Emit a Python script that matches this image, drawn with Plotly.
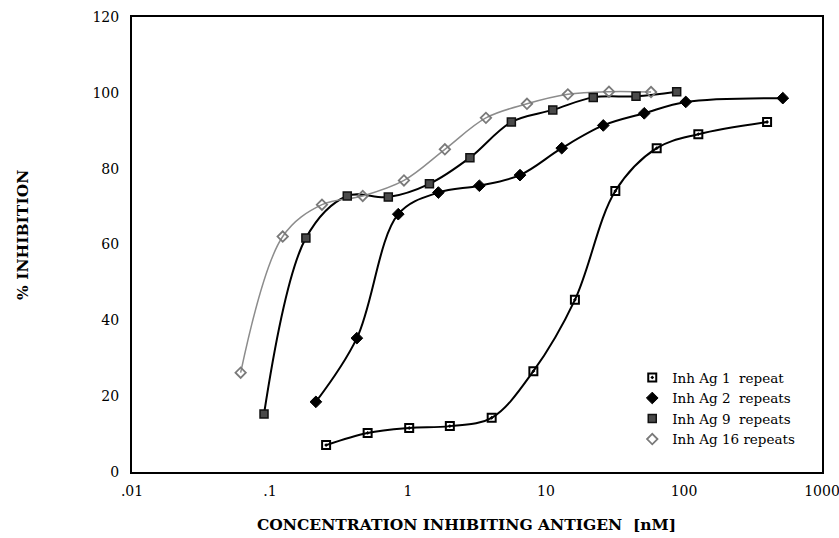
import plotly.graph_objects as go

# ---- data ----
ag1_x = [0.255, 0.51, 1.02, 2.01, 4.04, 8.1, 16.2, 31.8, 63.4, 127, 400]
ag1_y = [7.1, 10.3, 11.6, 12.1, 14.3, 26.6, 45.4, 74.1, 85.4, 89.1, 92.3]

ag2_x = [0.215, 0.426, 0.85, 1.66, 3.29, 6.48, 13.0, 26.0, 51.5, 103, 520]
ag2_y = [18.5, 35.3, 68.0, 73.7, 75.5, 78.3, 85.4, 91.4, 94.6, 97.6, 98.6]

ag9_x = [0.0905, 0.182, 0.363, 0.72, 1.43, 2.81, 5.61, 11.2, 22.0, 44.9, 88.5]
ag9_y = [15.3, 61.7, 72.8, 72.5, 76.0, 82.9, 92.3, 95.5, 98.8, 99.1, 100.3]

ag16_x = [0.0613, 0.1236, 0.238, 0.47, 0.935, 1.85, 3.67, 7.28, 14.4, 28.6, 57.7]
ag16_y = [26.2, 62.1, 70.5, 72.8, 76.9, 85.1, 93.4, 97.1, 99.6, 100.3, 100.2]

names = ["Inh Ag 1\u00a0 repeat", "Inh Ag 2\u00a0 repeats", "Inh Ag 9\u00a0 repeats", "Inh Ag 16 repeats"]

x_tickvals = [0.01, 0.1, 1, 10, 100, 1000]
x_ticktext = [".01", ".1", "1", "10", "100", "1000"]
y_tickvals = [0, 20, 40, 60, 80, 100, 120]

FONT = "DejaVu Serif"

series = [
    (ag1_x, ag1_y, names[0], dict(symbol="square-open-dot", size=8, color="black", line=dict(width=2, color="black")), dict(color="black", width=2)),
    (ag2_x, ag2_y, names[1], dict(symbol="diamond", size=9, color="black", line=dict(width=1, color="black")), dict(color="black", width=2)),
    (ag9_x, ag9_y, names[2], dict(symbol="square", size=8, color="#4a4a4a", line=dict(width=1.5, color="#111111")), dict(color="black", width=2)),
    (ag16_x, ag16_y, names[3], dict(symbol="diamond-open", size=8, color="#7a7a7a", line=dict(width=1.8, color="#7a7a7a")), dict(color="#8c8c8c", width=1.5)),
]

fig = go.Figure()
for xs, ys, nm, mk, ln in series:
    fig.add_trace(go.Scatter(x=xs, y=ys, mode="lines", line=dict(shape="spline", smoothing=1.0, **ln),
                             showlegend=False, hoverinfo="skip"))
for xs, ys, nm, mk, ln in series:
    fig.add_trace(go.Scatter(x=xs, y=ys, mode="markers", marker=mk, name=nm))

fig.update_layout(
    width=839, height=538,
    margin=dict(l=132, r=17, t=17, b=66, autoexpand=False),
    paper_bgcolor="white", plot_bgcolor="white",
    font=dict(family=FONT, size=14, color="black"),
    showlegend=True,
    legend=dict(x=0.725, y=0.2414, xanchor="left", yanchor="top",
                bgcolor="rgba(0,0,0,0)", font=dict(family=FONT, size=13.5),
                tracegroupgap=0, itemwidth=30),
    xaxis=dict(type="log", range=[-2, 3], tickvals=x_tickvals, ticktext=x_ticktext,
               showgrid=False, zeroline=False, showline=True, linecolor="black", linewidth=2,
               mirror=True, ticks="", ticklabelstandoff=5, ticklabeloverflow="allow",
               automargin=False, tickfont=dict(family=FONT, size=14)),
    yaxis=dict(range=[0, 120], tickvals=y_tickvals, showgrid=False, zeroline=False,
               showline=True, linecolor="black", linewidth=2, mirror=True, ticks="",
               ticklabelstandoff=8, automargin=False, tickfont=dict(family=FONT, size=14)),
    annotations=[
        dict(text="<b>CONCENTRATION INHIBITING ANTIGEN\u00a0 [nM]</b>", xref="paper", yref="paper",
             x=0.4855, y=-0.1143, xanchor="center", yanchor="middle", showarrow=False,
             font=dict(family=FONT, size=15.5)),
        dict(text="<b>% INHIBITION</b>", xref="paper", yref="paper", x=-0.158, y=0.521,
             xanchor="center", yanchor="middle", textangle=-90, showarrow=False,
             font=dict(family=FONT, size=15.5)),
    ],
)

fig.write_html("out.html", config={"displayModeBar": False},
               post_script="document.body.style.margin='0px';document.body.style.overflow='hidden';")
